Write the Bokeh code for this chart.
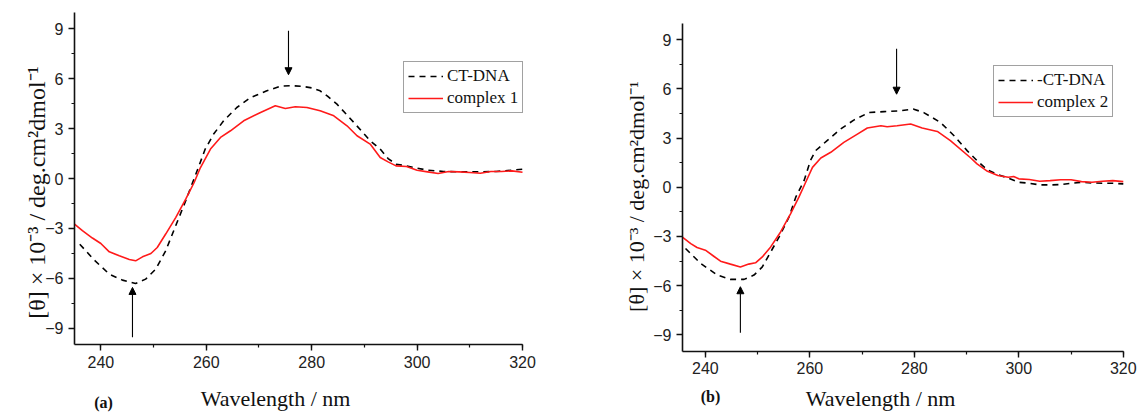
import math
from bokeh.plotting import figure
from bokeh.layouts import row
from bokeh.models import (Range1d, SingleIntervalTicker, Label, Arrow, NormalHead,
                          Legend, LegendItem)
from bokeh.embed import file_html
from bokeh.resources import INLINE

# ---------------- data ----------------
# panel (a)
dna_a_wl = [236.0, 238.7, 241.6, 244.1, 246.6, 248.5, 250.4, 252.3, 254.2, 256.1, 257.3,
            258.5, 259.8, 261.4, 263.3, 265.8, 268.4, 271.5, 274.0, 276.0, 278.0, 280.0,
            281.6, 283.0, 284.8, 288.0, 291.1, 293.0, 294.5, 296.0, 298.0, 300.0, 302.0,
            305.0, 310.0, 315.0, 320.0]
dna_a_val = [-3.95, -4.89, -5.75, -6.11, -6.31, -6.05, -5.45, -4.35, -2.84, -1.34, -0.34,
             0.66, 1.77, 2.67, 3.47, 4.27, 4.87, 5.27, 5.55, 5.58, 5.55, 5.45,
             5.27, 4.95, 4.47, 3.37, 2.27, 1.77, 1.2, 0.86, 0.76, 0.62, 0.5,
             0.42, 0.4, 0.42, 0.56]
cx1_wl = [235.0, 236.5, 238.4, 240.0, 241.6, 243.5, 245.4, 246.6, 247.9, 249.5, 250.7,
          252.3, 254.2, 256.1, 257.7, 258.9, 260.8, 262.7, 264.6, 267.1, 270.3, 273.1,
          275.0, 276.9, 279.1, 281.6, 284.2, 286.7, 288.6, 291.1, 293.0, 294.5, 296.0,
          298.0, 300.0, 302.0, 304.0, 306.0, 308.0, 310.0, 312.0, 314.0, 316.0, 318.0, 320.0]
cx1_val = [-2.74, -3.14, -3.58, -3.91, -4.41, -4.65, -4.87, -4.95, -4.71, -4.51, -4.15,
           -3.34, -2.35, -1.24, -0.24, 0.66, 1.77, 2.47, 2.87, 3.47, 3.97, 4.37,
           4.21, 4.31, 4.27, 4.07, 3.77, 3.17, 2.57, 2.07, 1.26, 1.0, 0.76,
           0.72, 0.5, 0.4, 0.3, 0.42, 0.4, 0.36, 0.32, 0.42, 0.42, 0.46, 0.38]

# panel (b)
dna_b_wl = [236.2, 239.1, 242.3, 244.8, 247.4, 249.3, 250.9, 252.5, 254.1, 256.0, 257.3,
            258.9, 260.1, 261.1, 263.3, 265.9, 268.4, 271.3, 274.2, 277.0, 279.9, 281.8,
            285.0, 287.6, 290.1, 292.0, 294.0, 296.0, 298.0, 300.0, 302.0, 304.0, 306.0,
            308.0, 310.0, 312.0, 314.0, 316.0, 318.0, 320.0]
dna_b_val = [-3.74, -4.65, -5.36, -5.62, -5.62, -5.36, -4.86, -3.95, -3.04, -1.82, -0.61,
             0.41, 1.62, 2.23, 2.84, 3.55, 4.09, 4.55, 4.61, 4.65, 4.76, 4.55,
             3.95, 3.14, 2.23, 1.62, 1.05, 0.77, 0.55, 0.3, 0.24, 0.14, 0.14,
             0.16, 0.24, 0.3, 0.26, 0.24, 0.24, 0.2]
cx2_wl = [235.6, 237.2, 238.4, 240.0, 241.6, 242.9, 244.8, 246.7, 248.3, 249.6, 250.9,
          252.5, 254.4, 256.3, 257.9, 259.2, 260.5, 262.1, 264.0, 266.5, 269.1, 271.0,
          273.6, 274.8, 276.7, 279.3, 281.5, 284.4, 286.9, 290.8, 292.0, 294.0, 296.0,
          298.0, 299.0, 300.0, 302.0, 304.0, 306.0, 308.0, 310.0, 312.0, 314.0, 316.0,
          318.0, 320.0]
cx2_val = [-3.04, -3.44, -3.68, -3.84, -4.21, -4.51, -4.69, -4.86, -4.69, -4.61, -4.25,
           -3.64, -2.73, -1.62, -0.61, 0.3, 1.21, 1.78, 2.13, 2.73, 3.24, 3.61,
           3.75, 3.69, 3.75, 3.85, 3.61, 3.4, 2.84, 1.78, 1.42, 0.97, 0.71,
           0.61, 0.65, 0.51, 0.47, 0.36, 0.4, 0.45, 0.45, 0.34, 0.3, 0.36,
           0.4, 0.34]

# arrows: [x, y_start, y_end]
arrows_a = [[275.6, 8.88, 6.24], [246.0, -9.54, -6.55]]
arrows_b = [[276.6, 8.44, 5.67], [246.7, -8.87, -6.07]]

x_limits_a = (235, 320)
x_limits_b = (235.6, 320)
y_limits = (-10, 10)
x_tick_interval = 20
y_tick_interval = 3
y_title = "[\u03b8] \u00d7 10\u207b\u00b3 / deg.cm\u00b2dmol\u207b\u00b9"
x_title = "Wavelength / nm"

SANS = "Liberation Sans"
SERIF = "Liberation Serif"
H = 412


def span_range(lo, hi, px_lo, px_hi, total, flip=False):
    """Extend the data range so that lo..hi sits at pixels px_lo..px_hi of a canvas."""
    per = (hi - lo) / (px_hi - px_lo)
    if flip:  # pixel measured from the top, data increases upward
        return Range1d(lo - (total - px_hi) * per, hi + px_lo * per)
    return Range1d(lo - px_lo * per, hi + (total - px_hi) * per)


def make_panel(width, xlim, frame_px, dna_wl, dna_val, cx_wl, cx_val, dna_label, cx_label,
               arrows, legend_loc, tag, tag_pos, xt_pos, yt_pos, yt_size):
    left, right, top, bottom = frame_px
    p = figure(width=width, height=H, output_backend="svg", toolbar_location=None,
               title=None,
               x_range=span_range(xlim[0], xlim[1], left, right, width),
               y_range=span_range(y_limits[0], y_limits[1], top, bottom, H, flip=True),
               min_border=0, min_border_left=0, min_border_right=0,
               min_border_top=0, min_border_bottom=0)
    p.outline_line_color = None
    p.xgrid.visible = False
    p.ygrid.visible = False
    p.background_fill_color = "white"
    p.border_fill_color = "white"

    p.xaxis.ticker = SingleIntervalTicker(interval=x_tick_interval, num_minor_ticks=2)
    p.yaxis.ticker = SingleIntervalTicker(interval=y_tick_interval, num_minor_ticks=2)
    p.xaxis.fixed_location = y_limits[0]
    p.yaxis.fixed_location = xlim[0]
    p.xaxis.bounds = xlim
    p.yaxis.bounds = y_limits
    for ax in (p.xaxis, p.yaxis):
        ax.axis_line_width = 1.6
        ax.axis_line_color = "#111111"
        ax.major_tick_line_width = 1.4
        ax.major_tick_line_color = "#111111"
        ax.minor_tick_line_width = 1.2
        ax.minor_tick_line_color = "#111111"
        ax.major_tick_out = 6
        ax.major_tick_in = 0
        ax.minor_tick_out = 3
        ax.minor_tick_in = 0
        ax.major_label_text_font = SANS
        ax.major_label_text_font_size = "16px"
        ax.major_label_text_color = "#222222"
        ax.major_label_standoff = 5

    r_dna = p.line(dna_wl, dna_val, line_color="black", line_width=1.6, line_dash="6 5")
    r_cx = p.line(cx_wl, cx_val, line_color="#ff1a1a", line_width=1.6)

    legend = Legend(items=[LegendItem(label=dna_label, renderers=[r_dna]),
                           LegendItem(label=cx_label, renderers=[r_cx])],
                    location=legend_loc)
    legend.label_text_font = SERIF
    legend.label_text_font_size = "17px"
    legend.label_text_color = "#111111"
    legend.glyph_width = 35
    legend.glyph_height = 20
    legend.label_height = 20
    legend.label_standoff = 4
    legend.spacing = 2
    legend.padding = 4
    legend.margin = 0
    legend.border_line_color = "#444444"
    legend.border_line_width = 1.3
    legend.background_fill_color = "white"
    legend.background_fill_alpha = 1.0
    p.add_layout(legend)

    for ax_x, y0, y1 in arrows:
        p.add_layout(Arrow(end=NormalHead(size=7, fill_color="black", line_color="black",
                                          line_width=1),
                           x_start=ax_x, y_start=y0, x_end=ax_x, y_end=y1,
                           line_color="black", line_width=1.1))

    p.add_layout(Label(x=xt_pos[0], y=xt_pos[1], x_units="screen", y_units="screen",
                       text=x_title, text_font=SERIF, text_font_size="22px",
                       text_align="center", text_baseline="alphabetic",
                       text_color="#111111"))
    p.add_layout(Label(x=yt_pos[0], y=yt_pos[1], x_units="screen", y_units="screen",
                       text=y_title, text_font=SERIF, text_font_size=yt_size,
                       text_align="center", text_baseline="alphabetic",
                       angle=math.pi / 2, text_color="#111111"))
    p.add_layout(Label(x=tag_pos[0], y=tag_pos[1], x_units="screen", y_units="screen",
                       text=tag, text_font=SERIF, text_font_size="16px",
                       text_font_style="bold", text_align="center",
                       text_baseline="alphabetic", text_color="#111111"))
    return p


WA = 568
WB = 1137 - WA
# frame_px: pixel position (left, right, top, bottom) of the axes box within each canvas
pa = make_panel(WA, x_limits_a, (74, 522, 11.7, 344.3), dna_a_wl, dna_a_val, cx1_wl, cx1_val,
                "CT-DNA", "complex 1", arrows_a, (403, 299), "(a)", (103, 10),
                (275, 14), (36, 220), "24px")
pb = make_panel(WB, x_limits_b, (113.9, 554.8, 22.7, 350.7), dna_b_wl, dna_b_val, cx2_wl,
                cx2_val, "-CT-DNA", "complex 2", arrows_b, (425, 295), "(b)", (142, 16),
                (312, 14), (68, 216), "22px")

layout = row(pa, pb, spacing=0)
open("out.html", "w").write(file_html(layout, INLINE, title="CD spectra"))
